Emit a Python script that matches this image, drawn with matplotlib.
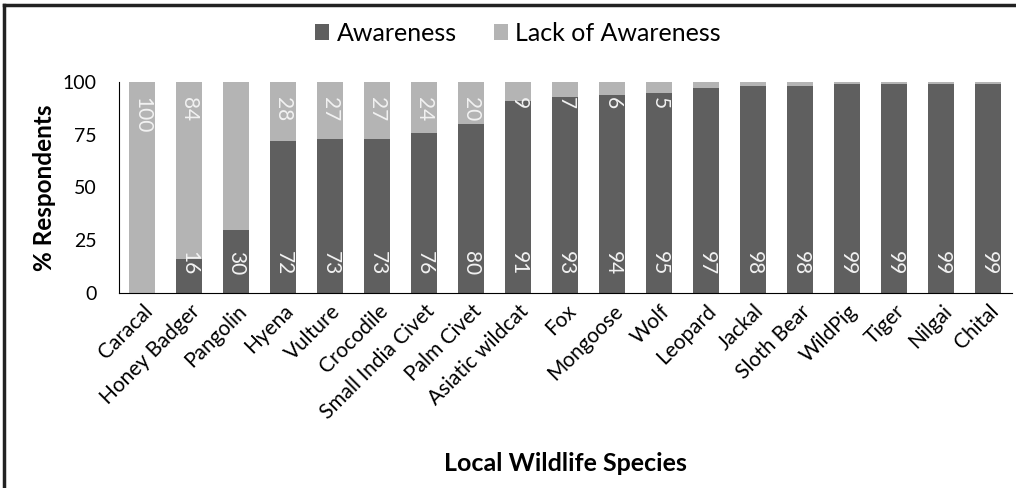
import numpy as np
import matplotlib
matplotlib.use("Agg")
import matplotlib.pyplot as plt
from matplotlib.lines import Line2D

plt.rcParams['font.family'] = ['Lato', 'DejaVu Sans']

# data
species = ["Caracal", "Honey Badger", "Pangolin", "Hyena", "Vulture", "Crocodile",
           "Small India Civet", "Palm Civet", "Asiatic wildcat", "Fox", "Mongoose",
           "Wolf", "Leopard", "Jackal", "Sloth Bear", "WildPig", "Tiger", "Nilgai", "Chital"]
awareness = [0, 16, 30, 72, 73, 73, 76, 80, 91, 93, 94, 95, 97, 98, 98, 99, 99, 99, 99]
lack = [100, 84, 70, 28, 27, 27, 24, 20, 9, 7, 6, 5, 3, 2, 2, 1, 1, 1, 1]
# labels shown on the chart (None = not shown)
aware_lbl = [None, 16, 30, 72, 73, 73, 76, 80, 91, 93, 94, 95, 97, 98, 98, 99, 99, 99, 99]
lack_lbl = [100, 84, None, 28, 27, 27, 24, 20, 9, 7, 6, 5, None, None, None, None, None, None, None]

dark = "#5f5f5f"
light = "#b4b4b4"

fig = plt.figure(figsize=(10.16, 4.88), dpi=100)
ax = fig.add_axes([0.117, 0.40, 0.879, 0.432])

x = np.arange(len(species))
w = 0.555
ax.bar(x, awareness, w, color=dark, label="Awareness")
ax.bar(x, lack, w, bottom=awareness, color=light, label="Lack of Awareness")

for i in range(len(species)):
    if aware_lbl[i] is not None:
        ax.text(x[i], 8.5, str(aware_lbl[i]), rotation=-90, ha='center', va='bottom',
                color='#f2f2f2', fontsize=15)
    if lack_lbl[i] is not None:
        ax.text(x[i], 93, str(lack_lbl[i]), rotation=-90, ha='center', va='top',
                color='#f2f2f2', fontsize=15)

ax.set_xlim(-0.5, len(species) - 0.5)
ax.set_ylim(0, 100)
ax.set_yticks([0, 25, 50, 75, 100])
ax.tick_params(axis='y', length=0, labelsize=14, pad=16)
ax.tick_params(axis='x', length=0, labelsize=15, pad=6)
ax.set_xticks(x)
ax.set_xticklabels(species, rotation=45, ha='right', rotation_mode='anchor')
for s in ['top', 'right']:
    ax.spines[s].set_visible(False)
ax.spines['left'].set_color('black')
ax.spines['bottom'].set_color('black')

ax.set_ylabel("% Respondents", fontsize=17.5, fontweight='bold', labelpad=5)
fig.text(0.557, 0.035, "Local Wildlife Species", fontsize=18, fontweight='bold', ha='center')

fig.legend(loc='center', bbox_to_anchor=(0.51, 0.932), ncol=2, frameon=False,
           fontsize=18, handlelength=0.55, handleheight=0.6, handletextpad=0.3, columnspacing=1.5)

# figure frame (top and left)
fig.add_artist(Line2D([0.004, 0.004], [0, 0.99], transform=fig.transFigure, color='#222222', lw=2.5))
fig.add_artist(Line2D([0.004, 1.0], [0.99, 0.99], transform=fig.transFigure, color='#222222', lw=2.5))

fig.savefig("out.png", dpi=100)
